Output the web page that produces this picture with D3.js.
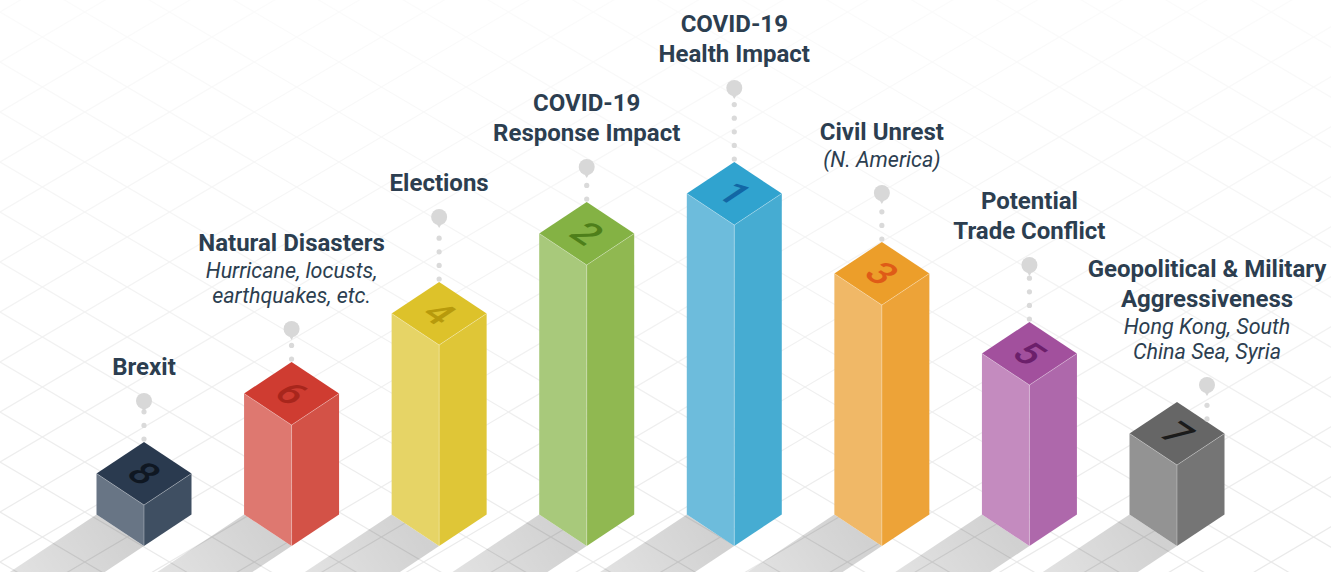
<!DOCTYPE html>
<html>
<head>
<meta charset="utf-8">
<script src="https://cdn.jsdelivr.net/npm/d3@7"></script>
<style>
  html, body { margin: 0; padding: 0; background: #fff; }
  svg { display: block; font-family: Roboto, "Noto Sans", sans-serif; }
</style>
</head>
<body>
<svg id="chart" width="1331" height="572"></svg>
<script>
  // data
  var titles = [
    ['Brexit'],
    ['Natural Disasters'],
    ['Elections'],
    ['COVID-19', 'Response Impact'],
    ['COVID-19', 'Health Impact'],
    ['Civil Unrest'],
    ['Potential', 'Trade Conflict'],
    ['Geopolitical & Military', 'Aggressiveness']
  ]
  var subtitles = [
    [],
    ['Hurricane, locusts,', 'earthquakes, etc.'],
    [],
    [],
    [],
    ['(N. America)'],
    [],
    ['Hong Kong, South', 'China Sea, Syria']
  ]
  var ranks = [8, 6, 4, 2, 1, 3, 5, 7]

  // colours: top face, left face, right face, number
  var TOP_COLORS = ['#2a3a4f', '#cf3c31', '#ddc22a', '#84b244', '#30a3cf', '#ec9e2a', '#a2509d', '#666666']
  var LEFT_COLORS = ['#687585', '#de7870', '#e6d466', '#a8c97b', '#6dbcdc', '#f0b867', '#c48bbf', '#939393']
  var RIGHT_COLORS = ['#3f4f62', '#d35247', '#dfc637', '#90b851', '#46acd2', '#eda338', '#ae68ab', '#757575']
  var NUM_COLORS = ['#0f1722', '#a8261c', '#b79a0c', '#4e7f1a', '#1267a5', '#df5b17', '#6c1f6b', '#1b1b1b']
  var TEXT_COLOR = '#2c3e50'

  // layout
  var WIDTH = 1331, HEIGHT = 572
  var BASE_Y = 546, HALF_W = 47.5, HALF_H = 31.5
  var SLOPE = HALF_H / HALF_W
  var PIN_LIFT = [41, 33, 65, 35, 74, 49, 57, 17]
  var PIN_SHIFT = [0, 0, 0, 0, 0, 0, 0, 30]

  var svg = d3.select('#chart')
  var defs = svg.append('defs')

  var x = d3.scalePoint()
    .domain(d3.range(ranks.length))
    .range([144, 1177])
  var h = d3.scaleLinear()
    .domain([0, ranks.length])
    .range([1, 321])

  // background grid, fading towards the top
  var gridGrad = defs.append('linearGradient')
    .attr('id', 'gridGrad')
    .attr('gradientUnits', 'userSpaceOnUse')
    .attr('x1', 0).attr('y1', 0).attr('x2', 0).attr('y2', HEIGHT)
  gridGrad.append('stop').attr('offset', 0).attr('stop-color', '#fbfbfb')
  gridGrad.append('stop').attr('offset', 0.55).attr('stop-color', '#f2f2f2')
  gridGrad.append('stop').attr('offset', 1).attr('stop-color', '#e9e9e9')

  var gridSlope = 0.59, gridStep = 50
  var gridLines = []
  d3.range(-1000, 1600, gridStep).forEach(function (c) {
    gridLines.push([[-20, c - 20 * gridSlope], [WIDTH + 20, c + (WIDTH + 20) * gridSlope]])
    gridLines.push([[-20, c + 20 * gridSlope], [WIDTH + 20, c - (WIDTH + 20) * gridSlope]])
  })
  svg.append('g')
    .attr('class', 'grid')
    .selectAll('line')
    .data(gridLines)
    .join('line')
    .attr('x1', function (d) { return d[0][0] })
    .attr('y1', function (d) { return d[0][1] + 12 })
    .attr('x2', function (d) { return d[1][0] })
    .attr('y2', function (d) { return d[1][1] + 12 })
    .attr('stroke', 'url(#gridGrad)')
    .attr('stroke-width', 1.2)

  var bars = ranks.map(function (rank, i) {
    var cx = x(i)
    var H = h(ranks.length + 1 - rank)
    return {
      i: i,
      rank: rank,
      cx: cx,
      H: H,
      topY: BASE_Y - H,           // front top vertex
      backY: BASE_Y - H - 2 * HALF_H
    }
  })

  // shadows
  var SHADOW_DX = -260
  var shadowG = svg.append('g').attr('class', 'shadows')
  bars.forEach(function (b) {
    var L = [b.cx - HALF_W, BASE_Y - HALF_H]
    var F = [b.cx, BASE_Y]
    var d = [SHADOW_DX, -SHADOW_DX * SLOPE]
    var mid = [(L[0] + F[0]) / 2, (L[1] + F[1]) / 2]
    var grad = defs.append('linearGradient')
      .attr('id', 'shadow' + b.i)
      .attr('gradientUnits', 'userSpaceOnUse')
      .attr('x1', mid[0]).attr('y1', mid[1])
      .attr('x2', mid[0] + d[0]).attr('y2', mid[1] + d[1])
    grad.append('stop').attr('offset', 0).attr('stop-color', '#000').attr('stop-opacity', 0.18)
    grad.append('stop').attr('offset', 0.55).attr('stop-color', '#000').attr('stop-opacity', 0.08)
    grad.append('stop').attr('offset', 1).attr('stop-color', '#000').attr('stop-opacity', 0)
    shadowG.append('path')
      .attr('d', d3.line()([L, F, [F[0] + d[0], F[1] + d[1]], [L[0] + d[0], L[1] + d[1]]]) + 'Z')
      .attr('fill', 'url(#shadow' + b.i + ')')
  })

  // bars
  var barG = svg.append('g').attr('class', 'bars')
  bars.forEach(function (b) {
    var g = barG.append('g')
    var cx = b.cx, yT = b.topY
    var left = [[cx - HALF_W, yT - HALF_H], [cx, yT], [cx, BASE_Y], [cx - HALF_W, BASE_Y - HALF_H]]
    var right = [[cx, yT], [cx + HALF_W, yT - HALF_H], [cx + HALF_W, BASE_Y - HALF_H], [cx, BASE_Y]]
    var top = [[cx, b.backY], [cx + HALF_W, yT - HALF_H], [cx, yT], [cx - HALF_W, yT - HALF_H]]
    g.append('path').attr('d', d3.line()(left) + 'Z').attr('fill', LEFT_COLORS[b.i])
    g.append('path').attr('d', d3.line()(right) + 'Z').attr('fill', RIGHT_COLORS[b.i])
    g.append('path').attr('d', d3.line()(top) + 'Z').attr('fill', TOP_COLORS[b.i])
    // soft highlight on the front edges
    g.append('path')
      .attr('d', d3.line()([[cx - HALF_W, yT - HALF_H], [cx, yT], [cx + HALF_W, yT - HALF_H]]) + 'M' + cx + ',' + yT + 'L' + cx + ',' + BASE_Y)
      .attr('fill', 'none')
      .attr('stroke', '#fff')
      .attr('stroke-opacity', 0.3)
      .attr('stroke-width', 1)
    // rank number lying on the top face
    g.append('text')
      .attr('transform', 'matrix(0.833,0.553,-0.833,0.553,' + cx + ',' + (yT - HALF_H) + ')')
      .attr('text-anchor', 'middle')
      .attr('dominant-baseline', 'central')
      .attr('font-size', 38)
      .attr('font-weight', 500)
      .attr('fill', NUM_COLORS[b.i])
      .text(b.rank)
  })

  // pins
  var pinG = svg.append('g').attr('class', 'pins')
  bars.forEach(function (b) {
    var px = b.cx + PIN_SHIFT[b.i]
    var endY = b.backY + Math.abs(px - b.cx) * SLOPE
    var cy = b.backY - PIN_LIFT[b.i]
    b.pinX = px
    b.pinY = cy
    var dots = d3.range(endY - 3, cy + 10, -13.6)
    pinG.selectAll(null)
      .data(dots)
      .enter()
      .append('circle')
      .attr('cx', px)
      .attr('cy', function (d) { return d })
      .attr('r', 2.6)
      .attr('fill', '#dadada')
    pinG.append('path')
      .attr('d', 'M' + (px - 3) + ',' + (cy + 6) + 'L' + px + ',' + (cy + 11) + 'L' + (px + 3) + ',' + (cy + 6) + 'Z')
      .attr('fill', '#d8d8d8')
    pinG.append('circle')
      .attr('cx', px)
      .attr('cy', cy)
      .attr('r', 8)
      .attr('fill', '#d8d8d8')
  })

  // labels
  var labelG = svg.append('g').attr('class', 'labels')
  bars.forEach(function (b) {
    var lines = []
    titles[b.i].forEach(function (t) { lines.push({ text: t, italic: false }) })
    subtitles[b.i].forEach(function (t) { lines.push({ text: t, italic: true }) })
    var y = b.pinY - 26
    for (var k = lines.length - 1; k >= 0; k--) {
      lines[k].y = y
      if (k > 0) {
        if (lines[k].italic && lines[k - 1].italic) y -= 25
        else if (lines[k].italic) y -= 27
        else y -= 30
      }
    }
    labelG.selectAll(null)
      .data(lines)
      .enter()
      .append('text')
      .attr('x', b.pinX)
      .attr('y', function (d) { return d.y })
      .attr('text-anchor', 'middle')
      .attr('fill', TEXT_COLOR)
      .attr('font-size', function (d) { return d.italic ? 21.5 : 24 })
      .attr('font-weight', function (d) { return d.italic ? 400 : 700 })
      .attr('font-style', function (d) { return d.italic ? 'italic' : 'normal' })
      .text(function (d) { return d.text })
  })
</script>
</body>
</html>
